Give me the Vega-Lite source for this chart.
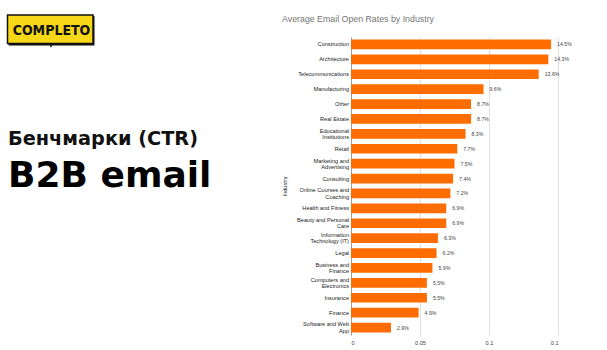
{
  "$schema": "https://vega.github.io/schema/vega-lite/v6.json",
  "background": "white",
  "padding": {"top": 14, "left": 0, "right": 0, "bottom": 0},
  "spacing": 22,
  "config": {"view": {"stroke": null}},
  "hconcat": [
    {
      "width": 260,
      "height": 298,
      "data": {
        "values": [
          {"text": "COMPLETO", "role": "logo"},
          {"text": "Бенчмарки (CTR)", "role": "kicker"},
          {"text": "B2B email", "role": "headline"}
        ]
      },
      "layer": [
        {
          "transform": [{"filter": "datum.role === 'logo'"}],
          "mark": {"type": "rect", "color": "#111111"},
          "encoding": {"x": {"value": 8.5}, "x2": {"value": 94.5}, "y": {"value": -21}, "y2": {"value": 8.5}}
        },
        {
          "transform": [{"filter": "datum.role === 'logo'"}],
          "mark": {"type": "rect", "fill": "#F7D716", "stroke": "#111111", "strokeWidth": 1.5},
          "encoding": {"x": {"value": 7.5}, "x2": {"value": 93}, "y": {"value": -22}, "y2": {"value": 6.5}}
        },
        {
          "transform": [{"filter": "datum.role === 'logo'"}],
          "mark": {"type": "point", "shape": "triangle-down", "filled": true, "color": "#111111", "size": 8, "opacity": 1},
          "encoding": {"x": {"value": 51}, "y": {"value": 9.5}}
        },
        {
          "transform": [{"filter": "datum.role === 'logo'"}],
          "mark": {"type": "text", "font": "DejaVu Sans Condensed, Liberation Sans", "fontWeight": "bold", "fontSize": 14, "align": "center", "baseline": "alphabetic", "color": "#111111"},
          "encoding": {"x": {"value": 51.5}, "y": {"value": -2}, "text": {"field": "text"}}
        },
        {
          "transform": [{"filter": "datum.role === 'kicker'"}],
          "mark": {"type": "text", "font": "DejaVu Sans", "fontWeight": "bold", "fontSize": 19.3, "align": "left", "baseline": "alphabetic", "color": "#111111"},
          "encoding": {"x": {"value": 8}, "y": {"value": 108.3}, "text": {"field": "text"}}
        },
        {
          "transform": [{"filter": "datum.role === 'headline'"}],
          "mark": {"type": "text", "font": "DejaVu Sans", "fontWeight": "bold", "fontSize": 36, "align": "left", "baseline": "alphabetic", "color": "#000000"},
          "encoding": {"x": {"value": 8}, "y": {"value": 150}, "text": {"field": "text"}}
        }
      ]
    },
    {
      "width": 207,
      "height": 298,
      "title": {
        "text": "Average Email Open Rates by Industry",
        "anchor": "start",
        "frame": "bounds",
        "font": "Liberation Sans",
        "fontSize": 8.8,
        "fontWeight": "normal",
        "color": "#757575",
        "offset": 13
      },
      "data": {
        "values": [
          {"industry": "Construction", "rate": 0.145},
          {"industry": "Architecture", "rate": 0.143},
          {"industry": "Telecommunications", "rate": 0.136},
          {"industry": "Manufacturing", "rate": 0.096},
          {"industry": "Other", "rate": 0.087},
          {"industry": "Real Estate", "rate": 0.087},
          {"industry": "Educational\nInstitutions", "rate": 0.083},
          {"industry": "Retail", "rate": 0.077},
          {"industry": "Marketing and\nAdvertising", "rate": 0.075},
          {"industry": "Consulting", "rate": 0.074},
          {"industry": "Online Courses and\nCoaching", "rate": 0.072},
          {"industry": "Health and Fitness", "rate": 0.069},
          {"industry": "Beauty and Personal\nCare", "rate": 0.069},
          {"industry": "Information\nTechnology (IT)", "rate": 0.063},
          {"industry": "Legal", "rate": 0.062},
          {"industry": "Business and\nFinance", "rate": 0.059},
          {"industry": "Computers and\nElectronics", "rate": 0.055},
          {"industry": "Insurance", "rate": 0.055},
          {"industry": "Finance", "rate": 0.049},
          {"industry": "Software and Web\nApp", "rate": 0.029}
        ]
      },
      "encoding": {
        "y": {
          "field": "industry",
          "type": "nominal",
          "sort": null,
          "scale": {"paddingInner": 0.35, "paddingOuter": 0.175},
          "axis": {
            "title": "Industry",
            "titleFont": "Liberation Sans",
            "titleFontSize": 5.6,
            "titleFontWeight": "normal",
            "titleColor": "#222222",
            "titlePadding": 9.5,
            "labelFont": "Liberation Sans",
            "labelFontSize": 5.6,
            "labelColor": "#222222",
            "labelLineHeight": 6.2,
            "labelPadding": 2.5,
            "labelOffset": {"condition": {"test": "indexof(datum.value, '\\n') >= 0", "value": -3.1}, "value": 0},
            "labelExpr": "split(datum.label, '\\n')",
            "ticks": false,
            "domain": true,
            "domainColor": "#9e9e9e",
            "domainWidth": 1
          }
        },
        "x": {
          "field": "rate",
          "type": "quantitative",
          "scale": {"domain": [0, 0.15], "nice": false, "zero": true},
          "axis": {
            "title": null,
            "values": [0, 0.05, 0.1, 0.15],
            "format": "~g",
            "labelFont": "Liberation Sans",
            "labelFontSize": 5.6,
            "labelColor": "#444444",
            "labelPadding": 5,
            "grid": true,
            "gridColor": "#e0e0e0",
            "domain": false,
            "ticks": false
          }
        }
      },
      "layer": [
        {"mark": {"type": "bar", "color": "#FF6D01"}},
        {
          "mark": {"type": "text", "align": "left", "baseline": "middle", "dx": 6, "font": "Liberation Sans", "fontSize": 5.2, "color": "#444444"},
          "encoding": {"text": {"field": "rate", "type": "quantitative", "format": ".1%"}}
        }
      ]
    }
  ]
}
